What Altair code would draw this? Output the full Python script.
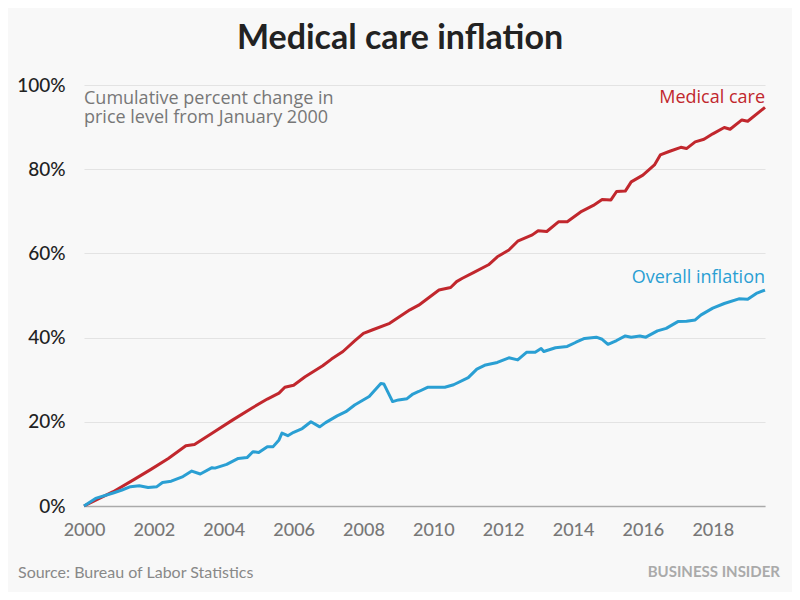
import altair as alt
import pandas as pd

# Overall inflation (all items CPI), cumulative % change since Jan 2000
overall_dates = [
    "2000-01", "2000-05", "2000-11", "2001-02", "2001-05", "2001-08", "2001-11",
    "2002-02", "2002-04", "2002-07", "2002-11", "2003-02", "2003-05", "2003-09",
    "2003-10", "2004-02", "2004-06", "2004-09", "2004-11", "2005-01", "2005-04",
    "2005-06", "2005-08", "2005-09", "2005-11", "2006-01", "2006-04", "2006-07",
    "2006-10", "2006-12", "2007-04", "2007-07", "2007-10", "2008-03", "2008-07",
    "2008-08", "2008-11", "2009-01", "2009-04", "2009-06", "2009-08", "2009-11",
    "2010-05", "2010-08", "2011-01", "2011-04", "2011-07", "2011-11", "2012-03",
    "2012-06", "2012-09", "2012-12", "2013-02", "2013-03", "2013-07", "2013-11",
    "2014-02", "2014-05", "2014-09", "2014-11", "2015-01", "2015-04", "2015-07",
    "2015-09", "2015-12", "2016-02", "2016-06", "2016-09", "2017-01", "2017-04",
    "2017-07", "2017-09", "2018-01", "2018-05", "2018-10", "2019-01", "2019-04",
    "2019-07",
]
overall_values = [
    0.0, 1.8, 3.1, 3.8, 4.6, 4.8, 4.4,
    4.6, 5.6, 5.9, 7.0, 8.3, 7.6, 9.1,
    9.0, 9.9, 11.3, 11.5, 12.9, 12.7, 14.1,
    14.1, 15.7, 17.3, 16.7, 17.5, 18.4, 20.0,
    18.8, 19.8, 21.4, 22.4, 24.0, 26.0, 29.1,
    29.0, 24.8, 25.2, 25.5, 26.6, 27.2, 28.2,
    28.2, 28.8, 30.5, 32.5, 33.5, 34.1, 35.2,
    34.7, 36.5, 36.5, 37.4, 36.7, 37.6, 37.9,
    38.9, 39.8, 40.1, 39.6, 38.4, 39.3, 40.4,
    40.1, 40.4, 40.1, 41.6, 42.2, 43.8, 43.9,
    44.2, 45.4, 47.0, 48.1, 49.2, 49.1, 50.5,
    51.3,
]

# Medical care CPI, cumulative % change since Jan 2000
medical_dates = [
    "2000-01", "2000-11", "2001-06", "2001-12", "2002-06", "2002-12", "2003-03",
    "2003-09", "2004-04", "2004-11", "2005-04", "2005-08", "2005-10", "2006-01",
    "2006-05", "2006-11", "2007-02", "2007-06", "2007-10", "2008-01", "2008-04",
    "2008-10", "2009-05", "2009-08", "2010-03", "2010-07", "2010-09", "2010-11",
    "2011-03", "2011-08", "2011-11", "2012-03", "2012-06", "2012-11", "2013-01",
    "2013-04", "2013-08", "2013-11", "2014-04", "2014-08", "2014-11", "2015-02",
    "2015-04", "2015-07", "2015-09", "2016-01", "2016-05", "2016-07", "2016-10",
    "2017-02", "2017-04", "2017-07", "2017-10", "2018-01", "2018-05", "2018-07",
    "2018-11", "2019-01", "2019-07",
]
medical_values = [
    0.0, 3.4, 6.2, 8.7, 11.3, 14.3, 14.6,
    17.3, 20.4, 23.4, 25.4, 26.8, 28.2, 28.7,
    30.7, 33.3, 34.9, 36.7, 39.2, 41.0, 41.8,
    43.4, 46.6, 47.7, 51.3, 51.9, 53.3, 54.1,
    55.5, 57.3, 59.2, 60.8, 62.9, 64.4, 65.4,
    65.2, 67.5, 67.5, 70.0, 71.4, 72.8, 72.7,
    74.7, 74.8, 77.0, 78.6, 81.0, 83.4, 84.2,
    85.2, 84.9, 86.5, 87.1, 88.4, 89.9, 89.5,
    91.7, 91.4, 94.7,
]

series_names = ["Medical care", "Overall inflation"]
series_colors = ["#c1272d", "#2a9fd3"]
y_ticks = [0, 20, 40, 60, 80, 100]
x_tick_years = list(range(2000, 2019, 2))
subtitle_lines = ["Cumulative percent change in", "price level from January 2000"]

df = pd.concat([
    pd.DataFrame({"date": medical_dates, "value": medical_values, "series": series_names[0]}),
    pd.DataFrame({"date": overall_dates, "value": overall_values, "series": series_names[1]}),
])

W, H = 681, 421
FONT = "Lato"
TFONT = "Open Sans"

x_enc = alt.X(
    "date:T",
    scale=alt.Scale(domain=[alt.DateTime(year=2000, month=1, date=1),
                            alt.DateTime(year=2019, month=7, date=1)]),
    axis=alt.Axis(
        title=None, format="%Y", values=[alt.DateTime(year=y, month=1, date=1) for y in x_tick_years],
        grid=False, ticks=False, domain=True, domainColor="#aaaaaa", domainWidth=1.5,
        labelFont=FONT, labelFontSize=18, labelColor="#777777", labelPadding=15,
        labelFontWeight=500, labelFlush=False, labelOverlap=False,
    ),
)
y_enc = alt.Y(
    "value:Q",
    scale=alt.Scale(domain=[0, 100]),
    axis=alt.Axis(
        title=None, values=y_ticks, labelExpr="datum.value + '%'",
        grid=True, gridColor="#e3e3e3", gridWidth=1, ticks=False, domain=False,
        labelFont=FONT, labelFontSize=19, labelColor="#222222", labelPadding=19,
        labelFontWeight=500,
    ),
)

lines = alt.Chart(df).mark_line(strokeWidth=3, strokeJoin="round").encode(
    x=x_enc,
    y=y_enc,
    color=alt.Color("series:N", scale=alt.Scale(domain=series_names, range=series_colors), legend=None),
)


def label(text, x, y, align, size, color, weight="normal", font=TFONT):
    return alt.Chart(pd.DataFrame({"t": [text]})).mark_text(
        align=align, baseline="alphabetic", font=font, fontSize=size, color=color, fontWeight=weight,
    ).encode(x=alt.value(x), y=alt.value(y), text="t:N")


sub1 = label(subtitle_lines[0], 0, 19, "left", 18, "#777777")
sub2 = label(subtitle_lines[1], 0, 38, "left", 18, "#777777")
med_label = label(series_names[0], W, 18, "right", 18, series_colors[0])
ovr_label = label(series_names[1], W, 198, "right", 18, series_colors[1])
title = label("Medical care inflation", 400 - 84, 49 - 85, "center", 34, "#222222", "bold", FONT)
source = label("Source: Bureau of Labor Statistics", 18 - 84, 578 - 85, "left", 16, "#888888", "normal", FONT)
brand = label("BUSINESS INSIDER", 780 - 84, 577 - 85, "right", 15, "#aaaaaa", "bold", FONT)

chart = alt.layer(lines, sub1, sub2, med_label, ovr_label, title, source, brand).properties(
    width=W, height=H,
    autosize=alt.AutoSizeParams(type="none"),
    padding={"left": 76, "top": 77, "right": 27, "bottom": 86},
    background="#f8f8f8",
).configure_view(stroke=None)

chart.save("out.html", embed_options={"renderer": "svg", "actions": False})
